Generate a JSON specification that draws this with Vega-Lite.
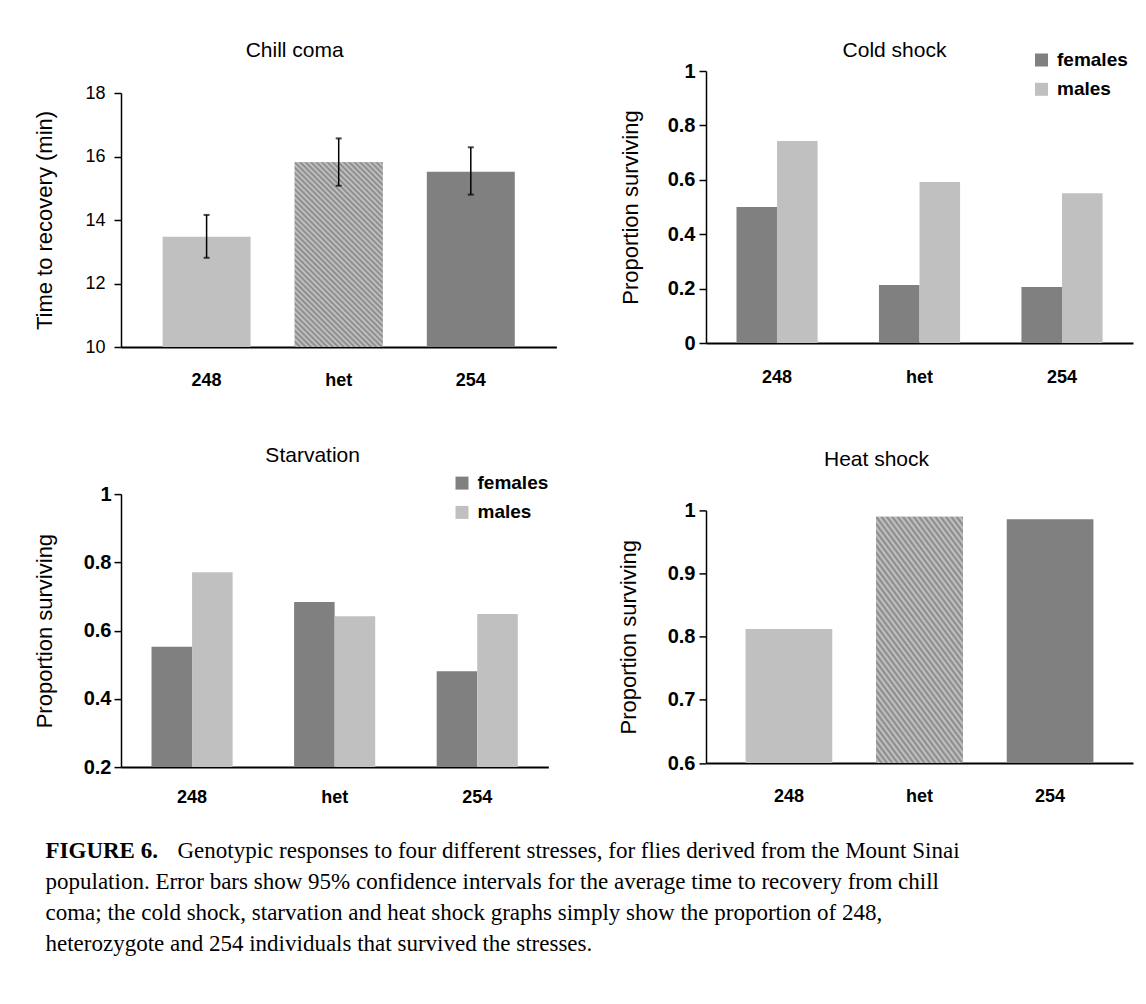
{
  "$schema": "https://vega.github.io/schema/vega-lite/v6.json",
  "background": "white",
  "padding": {"left": 33, "top": 40, "right": 10, "bottom": 10},
  "config": {
    "font": "Liberation Sans",
    "view": {"stroke": null},
    "axis": {"domainColor": "black", "tickColor": "black", "labelColor": "black", "titleColor": "black", "grid": false, "labelFont": "Liberation Sans", "titleFont": "Liberation Sans", "titleFontWeight": "normal"},
    "axisX": {"domainWidth": 2, "ticks": false, "tickSize": 0, "labelAngle": 0, "labelFontSize": 18, "labelFontWeight": "bold"},
    "axisY": {"domainWidth": 1.5, "tickWidth": 1.5, "tickSize": 7, "labelFontSize": 20, "labelFontWeight": "bold", "titleFontSize": 22},
    "title": {"font": "Liberation Sans", "fontSize": 21, "fontWeight": "normal", "color": "black", "anchor": "middle", "frame": "group"},
    "legend": {"title": null, "symbolType": "square", "symbolSize": 169, "symbolStrokeWidth": 0, "symbolOpacity": 1, "labelFont": "Liberation Sans", "labelFontSize": 19, "labelFontWeight": "bold", "labelColor": "black", "rowPadding": 9.3, "labelOffset": 6, "padding": 0}
  },
  "columns": 1,
  "spacing": 33,
  "align": "none",
  "resolve": {"scale": {"color": "independent"}, "legend": {"color": "independent"}},
  "concat": [
    {
      "columns": 2,
      "spacing": 60,
      "align": "none",
      "resolve": {"scale": {"color": "independent"}, "legend": {"color": "independent"}},
      "concat": [
        {
          "columns": 1,
          "spacing": 55.1,
          "align": "none",
          "resolve": {"scale": {"color": "independent"}, "legend": {"color": "independent"}},
          "concat": [
            {
              "width": 435.4,
              "height": 276,
              "title": {"text": "Chill coma", "dx": -44, "offset": 10},
              "data": {"values": [
                {"genotype": "248", "time": 13.47, "lo": 12.81, "hi": 14.16},
                {"genotype": "het", "time": 15.82, "lo": 15.08, "hi": 16.57},
                {"genotype": "254", "time": 15.52, "lo": 14.80, "hi": 16.29}
              ]},
              "encoding": {
                "x": {"field": "genotype", "type": "nominal", "sort": ["248", "het", "254"], "scale": {"paddingInner": 0.334, "paddingOuter": 0.315}, "axis": {"title": null, "labelPadding": 24.7}}
              },
              "layer": [
                {
                  "mark": {"type": "bar"},
                  "encoding": {
                    "y": {"field": "time", "type": "quantitative", "title": "Time to recovery (min)", "scale": {"domain": [10, 18], "range": [276, 22], "zero": false, "nice": false}, "axis": {"values": [10, 12, 14, 16, 18], "labelFontSize": 18, "labelFontWeight": "normal", "labelPadding": 9, "titlePadding": 28.5}},
                    "y2": {"datum": 10},
                    "color": {"field": "genotype", "type": "nominal", "scale": {"domain": ["248", "het", "254"], "range": ["#c0c0c0", "#a6a6a6", "#808080"]}, "legend": null}
                  }
                },
                {
                  "transform": [{"filter": "datum.genotype === 'het'"}],
                  "mark": {"type": "bar", "fill": {"gradient": "linear", "x1": 0, "y1": 1, "x2": 0.57, "y2": -0.2, "stops": [
                    {"offset": 0, "color": "#858585"}, {"offset": 0.01, "color": "#c8c8c8"}, {"offset": 0.02, "color": "#858585"}, {"offset": 0.03, "color": "#c8c8c8"}, {"offset": 0.04, "color": "#858585"}, {"offset": 0.05, "color": "#c8c8c8"}, {"offset": 0.06, "color": "#858585"}, {"offset": 0.07, "color": "#c8c8c8"}, {"offset": 0.08, "color": "#858585"}, {"offset": 0.09, "color": "#c8c8c8"},
                    {"offset": 0.10, "color": "#858585"}, {"offset": 0.11, "color": "#c8c8c8"}, {"offset": 0.12, "color": "#858585"}, {"offset": 0.13, "color": "#c8c8c8"}, {"offset": 0.14, "color": "#858585"}, {"offset": 0.15, "color": "#c8c8c8"}, {"offset": 0.16, "color": "#858585"}, {"offset": 0.17, "color": "#c8c8c8"}, {"offset": 0.18, "color": "#858585"}, {"offset": 0.19, "color": "#c8c8c8"},
                    {"offset": 0.20, "color": "#858585"}, {"offset": 0.21, "color": "#c8c8c8"}, {"offset": 0.22, "color": "#858585"}, {"offset": 0.23, "color": "#c8c8c8"}, {"offset": 0.24, "color": "#858585"}, {"offset": 0.25, "color": "#c8c8c8"}, {"offset": 0.26, "color": "#858585"}, {"offset": 0.27, "color": "#c8c8c8"}, {"offset": 0.28, "color": "#858585"}, {"offset": 0.29, "color": "#c8c8c8"},
                    {"offset": 0.30, "color": "#858585"}, {"offset": 0.31, "color": "#c8c8c8"}, {"offset": 0.32, "color": "#858585"}, {"offset": 0.33, "color": "#c8c8c8"}, {"offset": 0.34, "color": "#858585"}, {"offset": 0.35, "color": "#c8c8c8"}, {"offset": 0.36, "color": "#858585"}, {"offset": 0.37, "color": "#c8c8c8"}, {"offset": 0.38, "color": "#858585"}, {"offset": 0.39, "color": "#c8c8c8"},
                    {"offset": 0.40, "color": "#858585"}, {"offset": 0.41, "color": "#c8c8c8"}, {"offset": 0.42, "color": "#858585"}, {"offset": 0.43, "color": "#c8c8c8"}, {"offset": 0.44, "color": "#858585"}, {"offset": 0.45, "color": "#c8c8c8"}, {"offset": 0.46, "color": "#858585"}, {"offset": 0.47, "color": "#c8c8c8"}, {"offset": 0.48, "color": "#858585"}, {"offset": 0.49, "color": "#c8c8c8"},
                    {"offset": 0.50, "color": "#858585"}, {"offset": 0.51, "color": "#c8c8c8"}, {"offset": 0.52, "color": "#858585"}, {"offset": 0.53, "color": "#c8c8c8"}, {"offset": 0.54, "color": "#858585"}, {"offset": 0.55, "color": "#c8c8c8"}, {"offset": 0.56, "color": "#858585"}, {"offset": 0.57, "color": "#c8c8c8"}, {"offset": 0.58, "color": "#858585"}, {"offset": 0.59, "color": "#c8c8c8"},
                    {"offset": 0.60, "color": "#858585"}, {"offset": 0.61, "color": "#c8c8c8"}, {"offset": 0.62, "color": "#858585"}, {"offset": 0.63, "color": "#c8c8c8"}, {"offset": 0.64, "color": "#858585"}, {"offset": 0.65, "color": "#c8c8c8"}, {"offset": 0.66, "color": "#858585"}, {"offset": 0.67, "color": "#c8c8c8"}, {"offset": 0.68, "color": "#858585"}, {"offset": 0.69, "color": "#c8c8c8"},
                    {"offset": 0.70, "color": "#858585"}, {"offset": 0.71, "color": "#c8c8c8"}, {"offset": 0.72, "color": "#858585"}, {"offset": 0.73, "color": "#c8c8c8"}, {"offset": 0.74, "color": "#858585"}, {"offset": 0.75, "color": "#c8c8c8"}, {"offset": 0.76, "color": "#858585"}, {"offset": 0.77, "color": "#c8c8c8"}, {"offset": 0.78, "color": "#858585"}, {"offset": 0.79, "color": "#c8c8c8"},
                    {"offset": 0.80, "color": "#858585"}, {"offset": 0.81, "color": "#c8c8c8"}, {"offset": 0.82, "color": "#858585"}, {"offset": 0.83, "color": "#c8c8c8"}, {"offset": 0.84, "color": "#858585"}, {"offset": 0.85, "color": "#c8c8c8"}, {"offset": 0.86, "color": "#858585"}, {"offset": 0.87, "color": "#c8c8c8"}, {"offset": 0.88, "color": "#858585"}, {"offset": 0.89, "color": "#c8c8c8"},
                    {"offset": 0.90, "color": "#858585"}, {"offset": 0.91, "color": "#c8c8c8"}, {"offset": 0.92, "color": "#858585"}, {"offset": 0.93, "color": "#c8c8c8"}, {"offset": 0.94, "color": "#858585"}, {"offset": 0.95, "color": "#c8c8c8"}, {"offset": 0.96, "color": "#858585"}, {"offset": 0.97, "color": "#c8c8c8"}, {"offset": 0.98, "color": "#858585"}, {"offset": 0.99, "color": "#c8c8c8"},
                    {"offset": 1, "color": "#858585"}
                  ]}},
                  "encoding": {
                    "y": {"field": "time", "type": "quantitative", "title": "Time to recovery (min)"},
                    "y2": {"datum": 10}
                  }
                },
                {
                  "mark": {"type": "rule", "color": "black", "strokeWidth": 1.5},
                  "encoding": {
                    "y": {"field": "lo", "type": "quantitative", "title": "Time to recovery (min)"},
                    "y2": {"field": "hi"}
                  }
                },
                {
                  "mark": {"type": "tick", "color": "black", "size": 6, "thickness": 2},
                  "encoding": {"y": {"field": "lo", "type": "quantitative", "title": "Time to recovery (min)"}}
                },
                {
                  "mark": {"type": "tick", "color": "black", "size": 6, "thickness": 2},
                  "encoding": {"y": {"field": "hi", "type": "quantitative", "title": "Time to recovery (min)"}}
                }
              ]
            },
            {
              "width": 427.3,
              "height": 273,
              "title": {"text": "Starvation", "dx": -22, "offset": 7.3},
              "data": {"values": [
                {"genotype": "248", "sex": "females", "p": 0.553},
                {"genotype": "248", "sex": "males", "p": 0.771},
                {"genotype": "het", "sex": "females", "p": 0.684},
                {"genotype": "het", "sex": "males", "p": 0.642},
                {"genotype": "254", "sex": "females", "p": 0.481},
                {"genotype": "254", "sex": "males", "p": 0.649}
              ]},
              "mark": {"type": "bar"},
              "encoding": {
                "x": {"field": "genotype", "type": "nominal", "sort": ["248", "het", "254"], "scale": {"paddingInner": 0.431, "paddingOuter": 0.214}, "axis": {"title": null, "labelPadding": 21.4}},
                "xOffset": {"field": "sex", "type": "nominal", "sort": ["females", "males"], "scale": {"paddingInner": 0, "paddingOuter": 0}},
                "y": {"field": "p", "type": "quantitative", "title": "Proportion surviving", "scale": {"domain": [0.2, 1], "zero": false, "nice": false}, "axis": {"values": [0.2, 0.4, 0.6, 0.8, 1], "format": "~g", "labelPadding": 3, "titlePadding": 26.7}},
                "y2": {"datum": 0.2},
                "color": {"field": "sex", "type": "nominal", "scale": {"domain": ["females", "males"], "range": ["#808080", "#c0c0c0"]}, "legend": {"orient": "none", "legendX": 331.5, "legendY": -20.5}}
              }
            }
          ]
        },
        {
          "columns": 1,
          "spacing": 61.4,
          "align": "all",
          "resolve": {"scale": {"color": "independent"}, "legend": {"color": "independent"}},
          "concat": [
            {
              "width": 427,
              "height": 272,
              "title": {"text": "Cold shock", "dx": -25, "offset": -10.6},
              "data": {"values": [
                {"genotype": "248", "sex": "females", "p": 0.500},
                {"genotype": "248", "sex": "males", "p": 0.743},
                {"genotype": "het", "sex": "females", "p": 0.213},
                {"genotype": "het", "sex": "males", "p": 0.592},
                {"genotype": "254", "sex": "females", "p": 0.206},
                {"genotype": "254", "sex": "males", "p": 0.551}
              ]},
              "mark": {"type": "bar"},
              "encoding": {
                "x": {"field": "genotype", "type": "nominal", "sort": ["248", "het", "254"], "scale": {"paddingInner": 0.431, "paddingOuter": 0.214}, "axis": {"title": null, "labelPadding": 25.7}},
                "xOffset": {"field": "sex", "type": "nominal", "sort": ["females", "males"], "scale": {"paddingInner": 0, "paddingOuter": 0}},
                "y": {"field": "p", "type": "quantitative", "title": "Proportion surviving", "scale": {"domain": [0, 1], "nice": false}, "axis": {"values": [0, 0.2, 0.4, 0.6, 0.8, 1], "format": "~g", "labelPadding": 4, "titlePadding": 24.7}},
                "color": {"field": "sex", "type": "nominal", "scale": {"domain": ["females", "males"], "range": ["#808080", "#c0c0c0"]}, "legend": {"orient": "none", "legendX": 326, "legendY": -20.5}}
              }
            },
            {
              "width": 427,
              "height": 252.6,
              "title": {"text": "Heat shock", "dx": -43, "offset": 30.3},
              "data": {"values": [
                {"genotype": "248", "p": 0.812},
                {"genotype": "het", "p": 0.990},
                {"genotype": "254", "p": 0.986}
              ]},
              "encoding": {
                "x": {"field": "genotype", "type": "nominal", "sort": ["248", "het", "254"], "scale": {"paddingInner": 0.336, "paddingOuter": 0.303}, "axis": {"title": null, "labelPadding": 24.4}}
              },
              "layer": [
                {
                  "mark": {"type": "bar"},
                  "encoding": {
                    "y": {"field": "p", "type": "quantitative", "title": "Proportion surviving", "scale": {"domain": [0.6, 1], "zero": false, "nice": false}, "axis": {"values": [0.6, 0.7, 0.8, 0.9, 1], "format": "~g", "labelPadding": 4, "titlePadding": 26.5}},
                    "y2": {"datum": 0.6},
                    "color": {"field": "genotype", "type": "nominal", "scale": {"domain": ["248", "het", "254"], "range": ["#c0c0c0", "#a6a6a6", "#808080"]}, "legend": null}
                  }
                },
                {
                  "transform": [{"filter": "datum.genotype === 'het'"}],
                  "mark": {"type": "bar", "fill": {"gradient": "linear", "x1": 0, "y1": 1, "x2": 0.57, "y2": -0.2, "stops": [
                    {"offset": 0, "color": "#858585"}, {"offset": 0.01, "color": "#c8c8c8"}, {"offset": 0.02, "color": "#858585"}, {"offset": 0.03, "color": "#c8c8c8"}, {"offset": 0.04, "color": "#858585"}, {"offset": 0.05, "color": "#c8c8c8"}, {"offset": 0.06, "color": "#858585"}, {"offset": 0.07, "color": "#c8c8c8"}, {"offset": 0.08, "color": "#858585"}, {"offset": 0.09, "color": "#c8c8c8"},
                    {"offset": 0.10, "color": "#858585"}, {"offset": 0.11, "color": "#c8c8c8"}, {"offset": 0.12, "color": "#858585"}, {"offset": 0.13, "color": "#c8c8c8"}, {"offset": 0.14, "color": "#858585"}, {"offset": 0.15, "color": "#c8c8c8"}, {"offset": 0.16, "color": "#858585"}, {"offset": 0.17, "color": "#c8c8c8"}, {"offset": 0.18, "color": "#858585"}, {"offset": 0.19, "color": "#c8c8c8"},
                    {"offset": 0.20, "color": "#858585"}, {"offset": 0.21, "color": "#c8c8c8"}, {"offset": 0.22, "color": "#858585"}, {"offset": 0.23, "color": "#c8c8c8"}, {"offset": 0.24, "color": "#858585"}, {"offset": 0.25, "color": "#c8c8c8"}, {"offset": 0.26, "color": "#858585"}, {"offset": 0.27, "color": "#c8c8c8"}, {"offset": 0.28, "color": "#858585"}, {"offset": 0.29, "color": "#c8c8c8"},
                    {"offset": 0.30, "color": "#858585"}, {"offset": 0.31, "color": "#c8c8c8"}, {"offset": 0.32, "color": "#858585"}, {"offset": 0.33, "color": "#c8c8c8"}, {"offset": 0.34, "color": "#858585"}, {"offset": 0.35, "color": "#c8c8c8"}, {"offset": 0.36, "color": "#858585"}, {"offset": 0.37, "color": "#c8c8c8"}, {"offset": 0.38, "color": "#858585"}, {"offset": 0.39, "color": "#c8c8c8"},
                    {"offset": 0.40, "color": "#858585"}, {"offset": 0.41, "color": "#c8c8c8"}, {"offset": 0.42, "color": "#858585"}, {"offset": 0.43, "color": "#c8c8c8"}, {"offset": 0.44, "color": "#858585"}, {"offset": 0.45, "color": "#c8c8c8"}, {"offset": 0.46, "color": "#858585"}, {"offset": 0.47, "color": "#c8c8c8"}, {"offset": 0.48, "color": "#858585"}, {"offset": 0.49, "color": "#c8c8c8"},
                    {"offset": 0.50, "color": "#858585"}, {"offset": 0.51, "color": "#c8c8c8"}, {"offset": 0.52, "color": "#858585"}, {"offset": 0.53, "color": "#c8c8c8"}, {"offset": 0.54, "color": "#858585"}, {"offset": 0.55, "color": "#c8c8c8"}, {"offset": 0.56, "color": "#858585"}, {"offset": 0.57, "color": "#c8c8c8"}, {"offset": 0.58, "color": "#858585"}, {"offset": 0.59, "color": "#c8c8c8"},
                    {"offset": 0.60, "color": "#858585"}, {"offset": 0.61, "color": "#c8c8c8"}, {"offset": 0.62, "color": "#858585"}, {"offset": 0.63, "color": "#c8c8c8"}, {"offset": 0.64, "color": "#858585"}, {"offset": 0.65, "color": "#c8c8c8"}, {"offset": 0.66, "color": "#858585"}, {"offset": 0.67, "color": "#c8c8c8"}, {"offset": 0.68, "color": "#858585"}, {"offset": 0.69, "color": "#c8c8c8"},
                    {"offset": 0.70, "color": "#858585"}, {"offset": 0.71, "color": "#c8c8c8"}, {"offset": 0.72, "color": "#858585"}, {"offset": 0.73, "color": "#c8c8c8"}, {"offset": 0.74, "color": "#858585"}, {"offset": 0.75, "color": "#c8c8c8"}, {"offset": 0.76, "color": "#858585"}, {"offset": 0.77, "color": "#c8c8c8"}, {"offset": 0.78, "color": "#858585"}, {"offset": 0.79, "color": "#c8c8c8"},
                    {"offset": 0.80, "color": "#858585"}, {"offset": 0.81, "color": "#c8c8c8"}, {"offset": 0.82, "color": "#858585"}, {"offset": 0.83, "color": "#c8c8c8"}, {"offset": 0.84, "color": "#858585"}, {"offset": 0.85, "color": "#c8c8c8"}, {"offset": 0.86, "color": "#858585"}, {"offset": 0.87, "color": "#c8c8c8"}, {"offset": 0.88, "color": "#858585"}, {"offset": 0.89, "color": "#c8c8c8"},
                    {"offset": 0.90, "color": "#858585"}, {"offset": 0.91, "color": "#c8c8c8"}, {"offset": 0.92, "color": "#858585"}, {"offset": 0.93, "color": "#c8c8c8"}, {"offset": 0.94, "color": "#858585"}, {"offset": 0.95, "color": "#c8c8c8"}, {"offset": 0.96, "color": "#858585"}, {"offset": 0.97, "color": "#c8c8c8"}, {"offset": 0.98, "color": "#858585"}, {"offset": 0.99, "color": "#c8c8c8"},
                    {"offset": 1, "color": "#858585"}
                  ]}},
                  "encoding": {
                    "y": {"field": "p", "type": "quantitative", "title": "Proportion surviving"},
                    "y2": {"datum": 0.6}
                  }
                }
              ]
            }
          ]
        }
      ]
    },
    {
      "width": 1000,
      "height": 93,
      "data": {"values": [
        {"line": 1, "part": "lead", "text": "FIGURE 6."},
        {"line": 1, "part": "body", "text": "Genotypic responses to four different stresses, for flies derived from the Mount Sinai"},
        {"line": 2, "part": "body", "text": "population.  Error bars show 95% confidence intervals for the average time to recovery from chill"},
        {"line": 3, "part": "body", "text": "coma; the cold shock, starvation and heat shock graphs simply show the proportion of 248,"},
        {"line": 4, "part": "body", "text": "heterozygote and 254 individuals that survived the stresses."}
      ]},
      "encoding": {
        "y": {"field": "line", "type": "ordinal", "scale": {"type": "point", "padding": 0}, "axis": null},
        "x": {"value": 0},
        "text": {"field": "text"}
      },
      "layer": [
        {
          "transform": [{"filter": "datum.part === 'lead'"}],
          "mark": {"type": "text", "align": "left", "baseline": "alphabetic", "font": "Liberation Serif", "fontSize": 23, "fontWeight": "bold", "color": "black", "dx": -75.5}
        },
        {
          "transform": [{"filter": "datum.part === 'body' && datum.line === 1"}],
          "mark": {"type": "text", "align": "left", "baseline": "alphabetic", "font": "Liberation Serif", "fontSize": 23, "color": "black", "dx": 56.5}
        },
        {
          "transform": [{"filter": "datum.part === 'body' && datum.line > 1"}],
          "mark": {"type": "text", "align": "left", "baseline": "alphabetic", "font": "Liberation Serif", "fontSize": 23, "color": "black", "dx": -75.5}
        }
      ]
    }
  ]
}
